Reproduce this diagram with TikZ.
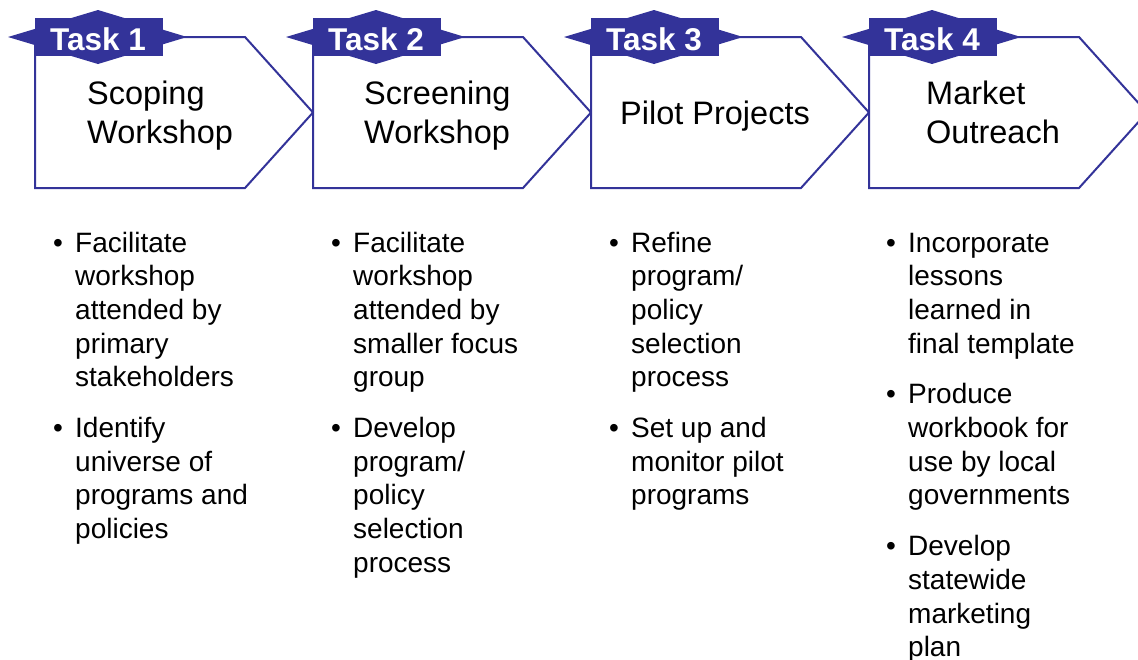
\documentclass[tikz,border=0pt]{standalone}
\usepackage{fontspec}
\setmainfont{Liberation Sans}
\definecolor{taskblue}{RGB}{51,51,153}
\begin{document}
\begin{tikzpicture}[x=1pt,y=-1pt,
  chevron/.style={draw=taskblue,line width=2pt,fill=white,line join=miter},
  tag/.style={fill=taskblue,draw=none},
  tagtext/.style={text=white,font=\fontsize{31.5}{36}\selectfont\bfseries,inner sep=0,anchor=base},
  title/.style={font=\fontsize{32.5}{39}\selectfont,inner sep=0,anchor=base west,align=left},
  list/.style={inner sep=0,anchor=base west}]
\useasboundingbox (0,0) rectangle (1138,659);
\newcommand{\bitem}[1]{\leftskip=22pt\noindent\llap{\makebox[22pt][l]{\textbullet}}#1\par}
\newcommand{\bgap}{\vspace{17pt}}
\newcommand{\blist}[1]{\parbox[t]{300pt}{\fontsize{28}{33.7}\selectfont\raggedright #1}}
% chevrons and tags
\foreach \L [count=\i] in {35,313,591,869}{
  \draw[chevron] (\L,37) -- (\L+210,37) -- (\L+278,112.5) -- (\L+210,188) -- (\L,188) -- cycle;
  \fill[tag] (\L,18) rectangle (\L+128,56);
  \fill[tag] (\L-27,37) -- (\L+63,10) -- (\L+152,37) -- (\L+63,64) -- cycle;
  \node[tagtext] (tag\i) at (\L+63,50) {Task \i};
}
% titles
\node[title] (t1a) at (87,104) {Scoping};
\node[title] (t1b) at (87,143) {Workshop};
\node[title] (t2a) at (364,104) {Screening};
\node[title] (t2b) at (364,143) {Workshop};
\node[title] (t3) at (620,124) {Pilot Projects};
\node[title] (t4a) at (926,104) {Market};
\node[title] (t4b) at (926,143) {Outreach};
% lists
\node[list] (l1) at (53,252) {\blist{%
  \bitem{Facilitate\\workshop\\attended by\\primary\\stakeholders}\bgap
  \bitem{Identify\\universe of\\programs and\\policies}}};
\node[list] (l2) at (331,252) {\blist{%
  \bitem{Facilitate\\workshop\\attended by\\smaller focus\\group}\bgap
  \bitem{Develop\\program/\\policy\\selection\\process}}};
\node[list] (l3) at (609,252) {\blist{%
  \bitem{Refine\\program/\\policy\\selection\\process}\bgap
  \bitem{Set up and\\monitor pilot\\programs}}};
\node[list] (l4) at (886,252) {\blist{%
  \bitem{Incorporate\\lessons\\learned in\\final template}\bgap
  \bitem{Produce\\workbook for\\use by local\\governments}\bgap
  \bitem{Develop\\statewide\\marketing\\plan}}};
\end{tikzpicture}
\end{document}
